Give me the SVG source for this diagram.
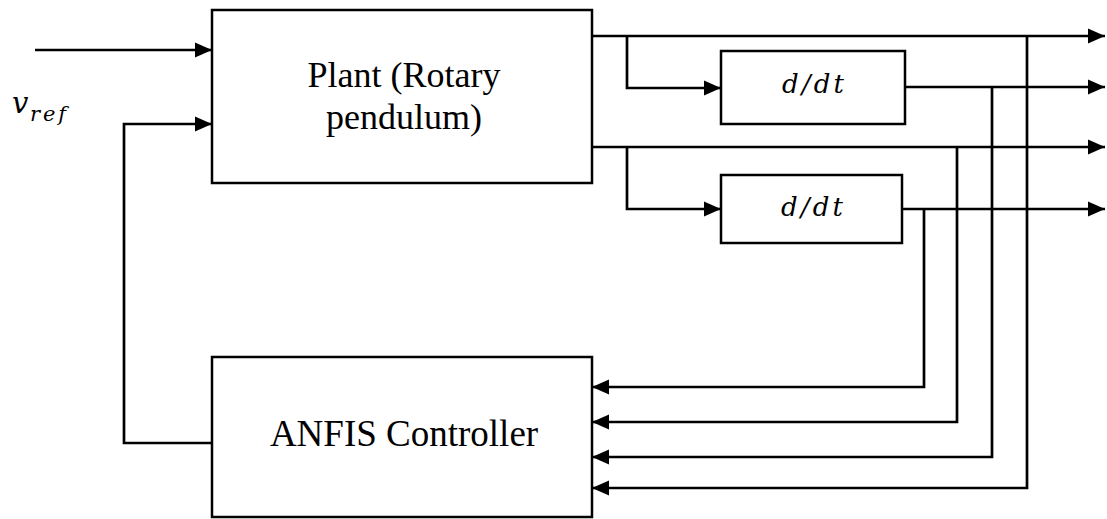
<svg xmlns="http://www.w3.org/2000/svg" width="1107" height="519" viewBox="0 0 1107 519">
<style>
.box{fill:#fff;stroke:#000;stroke-width:2.5}
.wire{fill:none;stroke:#000;stroke-width:2.7;marker-end:url(#ah)}
</style>
<defs>
<marker id="ah" markerUnits="userSpaceOnUse" markerWidth="18" markerHeight="16" refX="17" refY="8" orient="auto">
<path d="M0,0.5 L17,8 L0,15.5 z" fill="#000"/>
</marker>
</defs>
<rect width="1107" height="519" fill="#fff"/>
<g id="connectors">
<path class="wire" d="M35,50 H212"/>
<path class="wire" d="M212,443 H124 V124 H212"/>
<path class="wire" d="M592,36 H1105"/>
<path class="wire" d="M592,147 H1105"/>
<path class="wire" d="M627,36 V88 H721"/>
<path class="wire" d="M627,147 V209 H721"/>
<path class="wire" d="M905,87 H1105"/>
<path class="wire" d="M902,209 H1105"/>
<path class="wire" d="M1027,36 V488 H592"/>
<path class="wire" d="M992,87 V457 H592"/>
<path class="wire" d="M957,147 V422 H592"/>
<path class="wire" d="M924,209 V387 H592"/>
</g>
<g id="plant">
<rect class="box" x="212" y="10" width="380" height="173"/>
<text x="404" y="87" font-family="'Liberation Serif', 'Times New Roman', serif" font-size="36" text-anchor="middle" fill="#000">Plant (Rotary</text>
<text x="404" y="129" font-family="'Liberation Serif', 'Times New Roman', serif" font-size="36" text-anchor="middle" fill="#000">pendulum)</text>
</g>
<g id="ddt1">
<rect class="box" x="721" y="51" width="184" height="73"/>
<text x="782" y="93" font-family="'DejaVu Serif', 'Liberation Serif', serif" font-style="italic" font-size="26" textLength="62" lengthAdjust="spacing" fill="#000">d/dt</text>
</g>
<g id="ddt2">
<rect class="box" x="721" y="175" width="181" height="68"/>
<text x="781" y="216" font-family="'DejaVu Serif', 'Liberation Serif', serif" font-style="italic" font-size="26" textLength="62" lengthAdjust="spacing" fill="#000">d/dt</text>
</g>
<g id="anfis">
<rect class="box" x="212" y="357" width="380" height="160"/>
<text x="404" y="446" font-family="'Liberation Serif', 'Times New Roman', serif" font-size="37" text-anchor="middle" fill="#000">ANFIS Controller</text>
</g>
<g id="vref">
<text x="12" y="113" font-family="'DejaVu Serif', 'Liberation Serif', serif" font-style="italic" font-size="29" fill="#000">v</text>
<text x="30" y="121" font-family="'DejaVu Serif', 'Liberation Serif', serif" font-style="italic" font-size="21" textLength="36" lengthAdjust="spacing" fill="#000">ref</text>
</g>
</svg>
